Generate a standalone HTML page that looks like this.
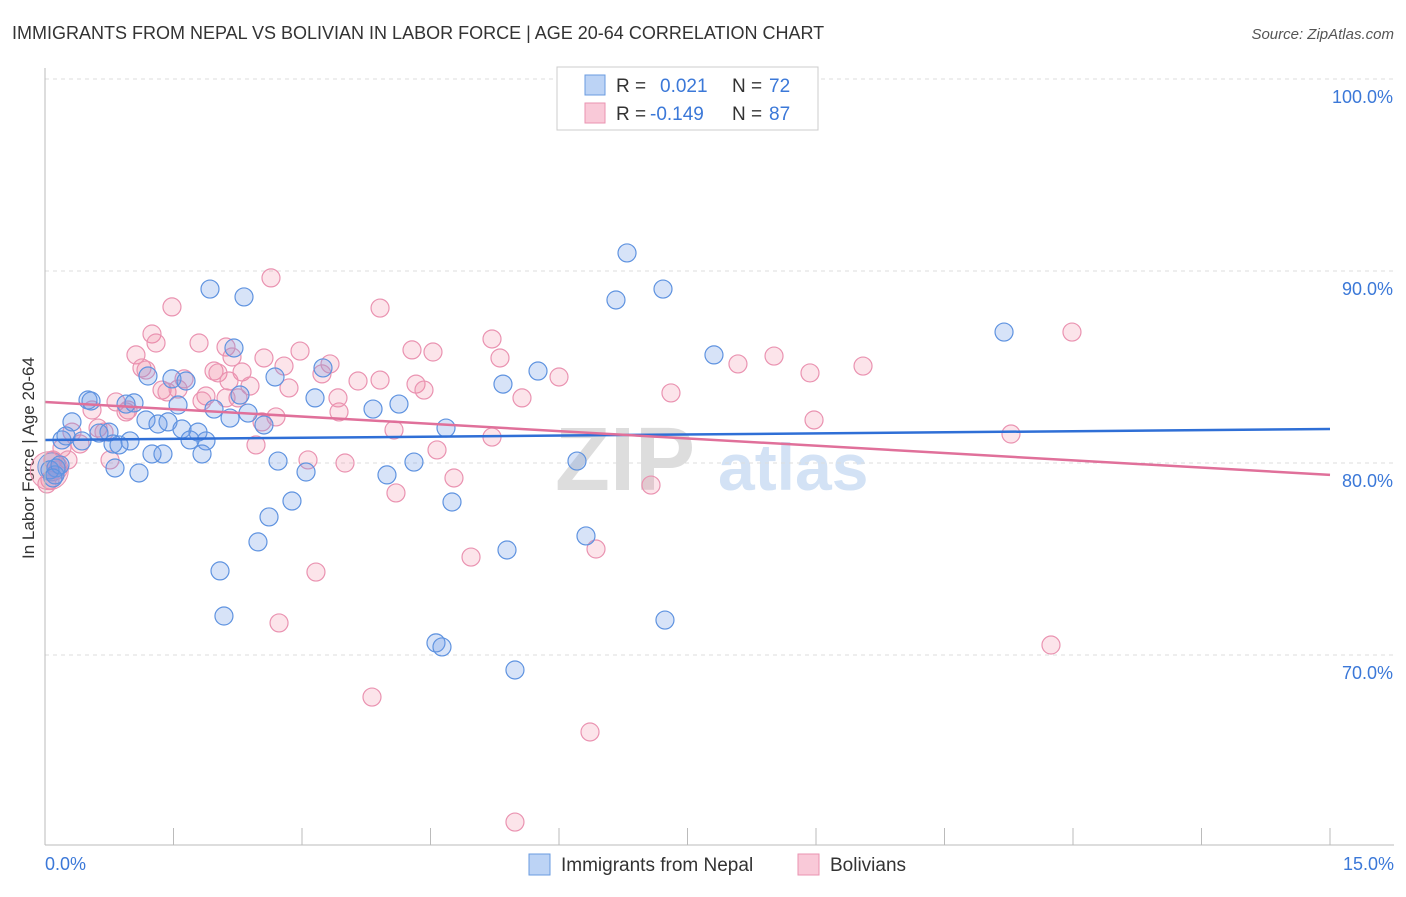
<!DOCTYPE html>
<html><head><meta charset="utf-8"><style>
body{margin:0;background:#fff;font-family:"Liberation Sans",sans-serif}
svg text{font-family:"Liberation Sans",sans-serif}
</style></head><body>
<svg id="c" width="1406" height="892" xmlns="http://www.w3.org/2000/svg">
<text x="12" y="39" font-size="18" fill="#333">IMMIGRANTS FROM NEPAL VS BOLIVIAN IN LABOR FORCE | AGE 20-64 CORRELATION CHART</text>
<text x="1394" y="39" font-size="15" fill="#555" font-style="italic" text-anchor="end">Source: ZipAtlas.com</text>
<text x="34" y="458" font-size="17" fill="#333" text-anchor="middle" transform="rotate(-90 34 458)">In Labor Force | Age 20-64</text>
<text x="555" y="490" font-size="90" fill="#ddd" font-family="Liberation Serif" font-weight="bold">ZIP</text>
<text x="718" y="490" font-size="66" fill="#d3e2f5" font-weight="bold">atlas</text>
<g id="grid"></g><g id="pts"></g><g id="lines"></g>
<line x1="45" y1="68" x2="45" y2="845" stroke="#bbb"/>
<line x1="45" y1="845" x2="1394" y2="845" stroke="#bbb"/>
<text x="45" y="870" font-size="18" fill="#3b78d8">0.0%</text>
<text x="1394" y="870" font-size="18" fill="#3b78d8" text-anchor="end">15.0%</text>
<g>
<rect x="557" y="67" width="261" height="63" fill="#fff" stroke="#ccc"/>
<rect x="585" y="75" width="20" height="20" fill="#bcd3f5" stroke="#6a9be0"/>
<rect x="585" y="103" width="20" height="20" fill="#f9c9d8" stroke="#ea93b1"/>
<text x="616" y="92" font-size="19" fill="#333">R =</text><text x="660" y="92" font-size="19" fill="#3b78d8">0.021</text>
<text x="732" y="92" font-size="19" fill="#333">N =</text><text x="769" y="92" font-size="19" fill="#3b78d8">72</text>
<text x="616" y="120" font-size="19" fill="#333">R =</text><text x="650" y="120" font-size="19" fill="#3b78d8">-0.149</text>
<text x="732" y="120" font-size="19" fill="#333">N =</text><text x="769" y="120" font-size="19" fill="#3b78d8">87</text>
</g>
<g>
<rect x="529" y="854" width="21" height="21" fill="#bcd3f5" stroke="#6a9be0"/>
<text x="561" y="871" font-size="19" fill="#333">Immigrants from Nepal</text>
<rect x="798" y="854" width="21" height="21" fill="#f9c9d8" stroke="#ea93b1"/>
<text x="830" y="871" font-size="19" fill="#333">Bolivians</text>
</g>
</svg>
<script>
const yTicks=[100,90,80,70];
const xTicks=[0,1.5,3,4.5,6,7.5,9,10.5,12,13.5,15];
const nepalPx=[[210,289],[244,297],[627,253],[616,300],[663,289],[1004,332],[714,355],[538,371],[503,384],[234,348],[275,377],[323,368],[315,398],[373,409],[399,404],[148,376],[172,379],[186,381],[88,400],[91,401],[134,403],[126,404],[178,405],[240,395],[248,413],[214,409],[230,418],[264,425],[146,420],[158,424],[72,422],[168,422],[182,429],[198,432],[206,441],[190,440],[109,432],[99,433],[66,436],[62,440],[82,441],[113,444],[130,441],[119,445],[152,454],[163,454],[202,454],[446,428],[278,461],[306,472],[414,462],[577,461],[115,468],[139,473],[56,468],[55,475],[387,475],[292,501],[452,502],[269,517],[258,542],[586,536],[507,550],[220,571],[224,616],[665,620],[436,643],[442,647],[515,670],[50,470],[60,465],[53,478]];
const bolPx=[[271,278],[172,307],[380,308],[152,334],[156,343],[136,355],[226,347],[199,343],[232,357],[264,358],[300,351],[284,366],[492,339],[412,350],[433,352],[500,358],[330,364],[142,368],[146,370],[184,379],[162,390],[167,392],[214,371],[218,373],[242,372],[229,381],[250,386],[289,388],[238,398],[226,398],[322,374],[358,381],[380,380],[416,384],[424,390],[738,364],[774,356],[810,373],[863,366],[1072,332],[559,377],[522,398],[671,393],[814,420],[92,410],[116,402],[128,410],[126,412],[178,389],[206,396],[202,401],[276,417],[262,422],[339,412],[338,398],[394,430],[492,437],[437,450],[454,478],[396,493],[345,463],[308,460],[256,445],[110,460],[80,444],[62,448],[68,460],[53,460],[50,480],[47,484],[58,470],[651,485],[471,557],[596,549],[316,572],[279,623],[1011,434],[1051,645],[372,697],[590,732],[515,822],[98,428],[104,432],[72,432]];
// convert read positions to data values (percent)
const nepalX=nepalPx.map(p=>+((p[0]-45)/1285*15).toFixed(3));
const nepalY=nepalPx.map(p=>+(100-(p[1]-79)/19.2).toFixed(2));
const bolX=bolPx.map(p=>+((p[0]-45)/1285*15).toFixed(3));
const bolY=bolPx.map(p=>+(100-(p[1]-79)/19.2).toFixed(2));
const nepalTrend=[81.2,81.77];
const bolTrend=[83.18,79.38];
const sx=v=>45+v/15*1285, sy=v=>79+(100-v)*19.2;
const NS="http://www.w3.org/2000/svg";
function mk(t,a,p){const e=document.createElementNS(NS,t);for(const k in a)e.setAttribute(k,a[k]);p.appendChild(e);return e;}
const grid=document.getElementById('grid');
yTicks.forEach(v=>{
 const l=mk('line',{x1:45,x2:1394,y1:sy(v),y2:sy(v),stroke:'#ddd','stroke-dasharray':'4 4'},grid);
 
 
 const t=mk('text',{x:1393,y:sy(v)+24,'font-size':18,fill:'#3b78d8','text-anchor':'end'},grid);
 t.textContent=v.toFixed(1)+'%';
 
 
});
xTicks.forEach(v=>{
 const l=mk('line',{x1:sx(v),x2:sx(v),y1:828,y2:845,stroke:'#bbb'},grid);
 
 
});
const pts=document.getElementById('pts');
const big1=mk('circle',{cx:sx(0.05),cy:sy(79.6),r:19,fill:'rgba(240,130,160,0.25)',stroke:'#ea93b1'},pts);


const big2=mk('circle',{cx:sx(0.08),cy:sy(79.8),r:14,fill:'rgba(110,155,230,0.3)',stroke:'#6a9be0'},pts);


bolX.forEach((x,i)=>{const c=mk('circle',{cx:sx(x),cy:sy(bolY[i]),r:9,fill:'rgba(240,130,160,0.22)',stroke:'#ea93b1','stroke-width':1.2},pts);
 
 });
nepalX.forEach((x,i)=>{const c=mk('circle',{cx:sx(x),cy:sy(nepalY[i]),r:9,fill:'rgba(110,155,230,0.28)',stroke:'#5f93e0','stroke-width':1.2},pts);
 
 });
const lines=document.getElementById('lines');
const l1=mk('line',{x1:sx(0),x2:sx(15),y1:sy(nepalTrend[0]),y2:sy(nepalTrend[1]),stroke:'#2f6fd6','stroke-width':2.5},lines);


const l2=mk('line',{x1:sx(0),x2:sx(15),y1:sy(bolTrend[0]),y2:sy(bolTrend[1]),stroke:'#e0709a','stroke-width':2.5},lines);


</script>
</body></html>
